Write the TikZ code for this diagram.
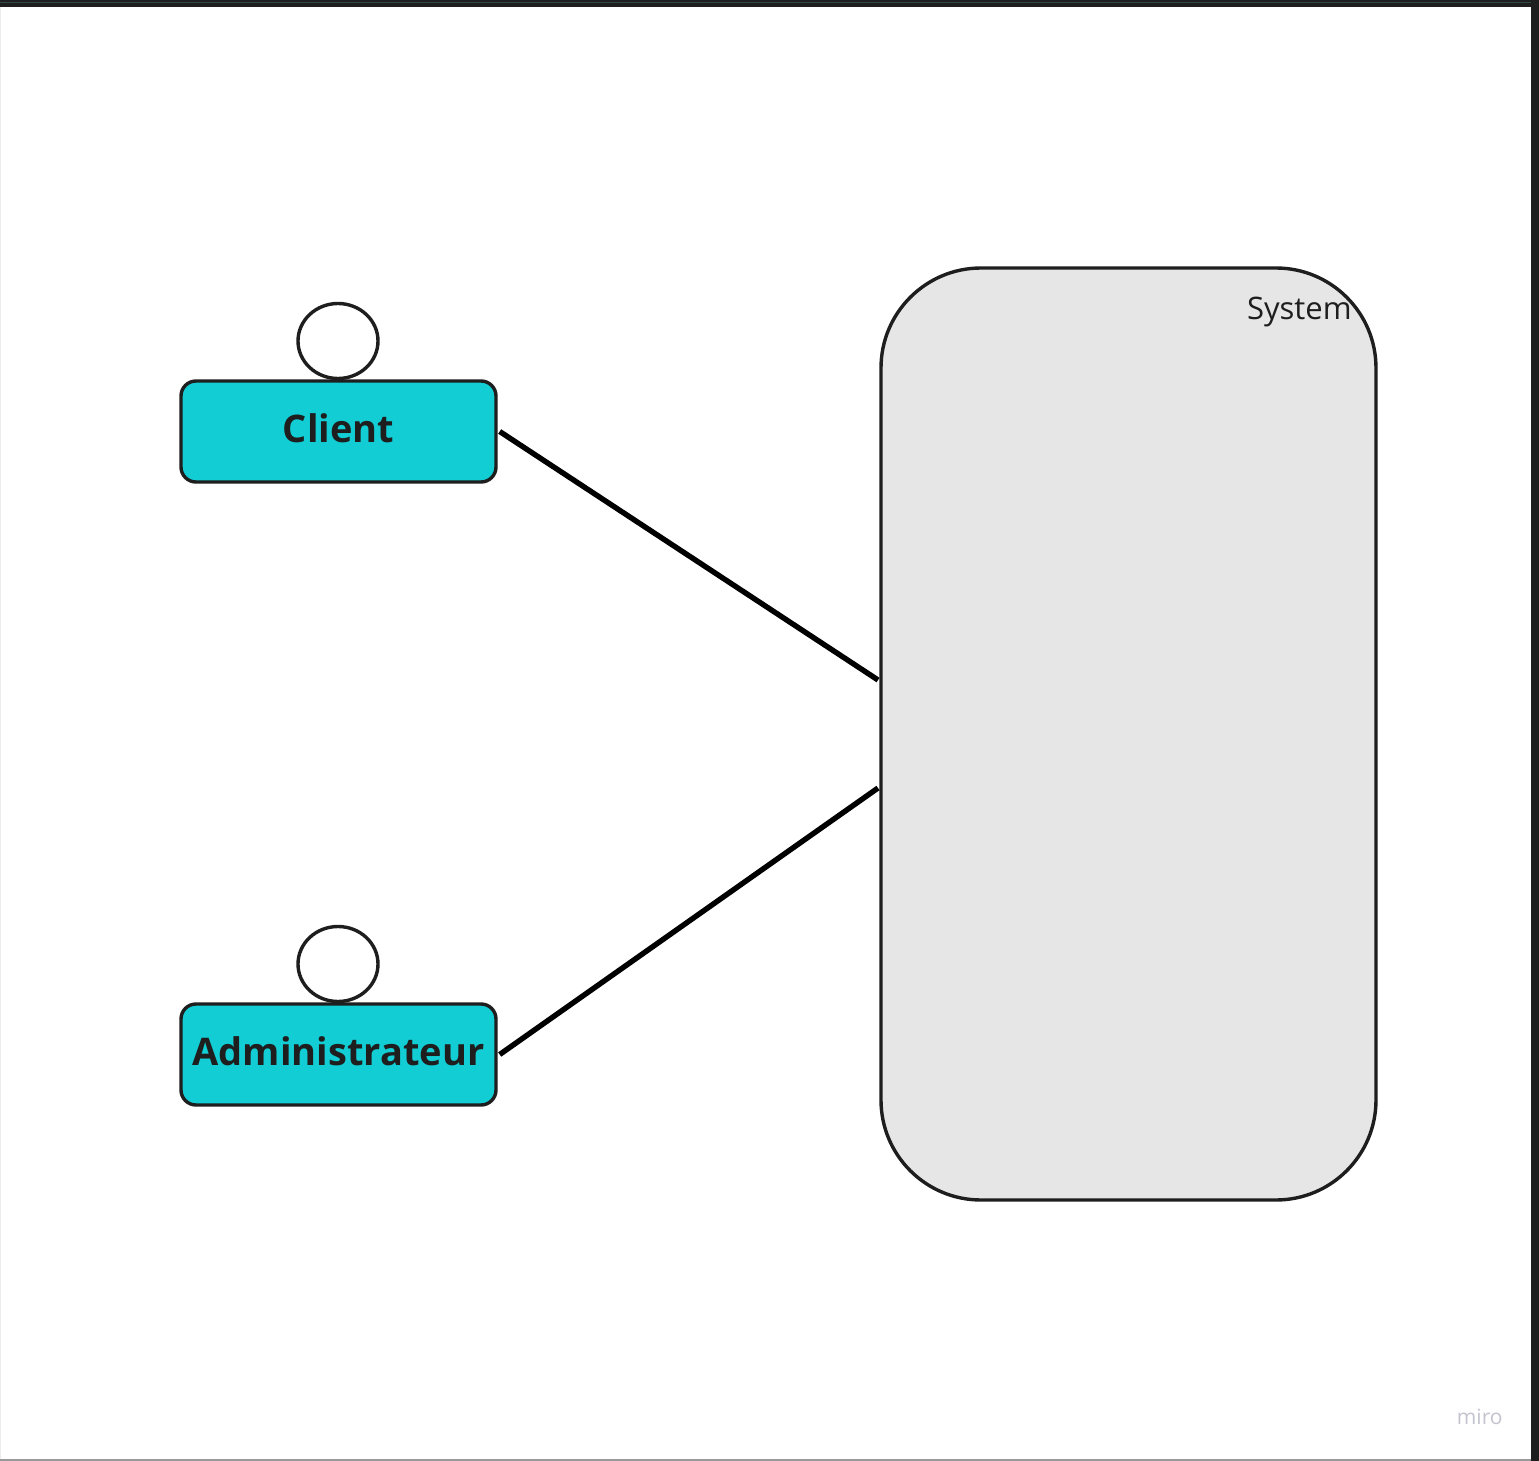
\documentclass[tikz,border=0pt]{standalone}
\usepackage{fontspec}
\setmainfont{Open Sans}
\usetikzlibrary{shapes.geometric}
\definecolor{actorcyan}{HTML}{12CDD4}
\definecolor{sysgray}{HTML}{E6E6E6}
\definecolor{edgedark}{HTML}{1E1E1E}
\definecolor{bandteal}{HTML}{2E4A48}
\definecolor{marklight}{HTML}{C4C4D0}
\begin{document}
\begin{tikzpicture}
[x=0.5pt,y=-0.5pt,
  actorbox/.style={shape=rectangle,rounded corners=7.5pt,draw=edgedark,line width=1.7pt,
    fill=actorcyan,minimum width=157.5pt,minimum height=50.5pt,inner sep=0pt,
    font=\bfseries\fontsize{19}{22}\selectfont,text=edgedark},%
  actorhead/.style={shape=ellipse,draw=edgedark,line width=1.7pt,fill=white,
    minimum width=40pt,minimum height=37.5pt,inner sep=0pt},%
  sysbox/.style={shape=rectangle,rounded corners=50pt,draw=edgedark,line width=1.7pt,
    fill=sysgray,minimum width=247.5pt,minimum height=466pt,inner sep=0pt},%
  linedecorate/.style={-,line width=2.7pt,black}]
\useasboundingbox (0,0) rectangle (1539,1461);
%% frame
\fill[white] (0,0) rectangle (1539,1461);
\fill[edgedark] (0,0) rectangle (1539,7);
\draw[bandteal,line width=0.5pt] (0,3) -- (1539,3);
\fill[edgedark] (1531,0) rectangle (1539,1461);
\fill[gray!80] (0,1459) rectangle (1531,1461);
\draw[gray!15,line width=0.5pt] (0.5,7) -- (0.5,1459);
%% system
\node (sys) at (1128.5,734) [sysbox] {};
\node (syslabel) [anchor=base east,inner sep=0pt,font=\fontsize{15.5}{18}\selectfont,
  text=edgedark] at (1352,320) {System};
\coordinate (sysA) at (878,680);
\coordinate (sysB) at (878,788);
%% actors
\foreach \nodename/\label/\y in {client/Client/431.5, admin/Administrateur/1054.5} {
  \node (\nodename) at (338.5,\y) [actorbox] {};
  \node (\nodename text) at (338.5,\y-3) [font=\bfseries\fontsize{19}{22}\selectfont,
    text=edgedark,inner sep=0pt] {\label};
  \node (\nodename head) at (338,\y-90.5) [actorhead] {};
}
%% edges or lines
\path
\foreach \startnode/\endnode in {client/sysA, admin/sysB} {
  ([xshift=1pt]\startnode.east) edge[linedecorate] (\endnode)
};
%% watermark
\node (mark) [anchor=base east,inner sep=0pt,font=\fontsize{10.5}{12}\selectfont,
  text=marklight] at (1503,1424) {miro};
\end{tikzpicture}
\end{document}
